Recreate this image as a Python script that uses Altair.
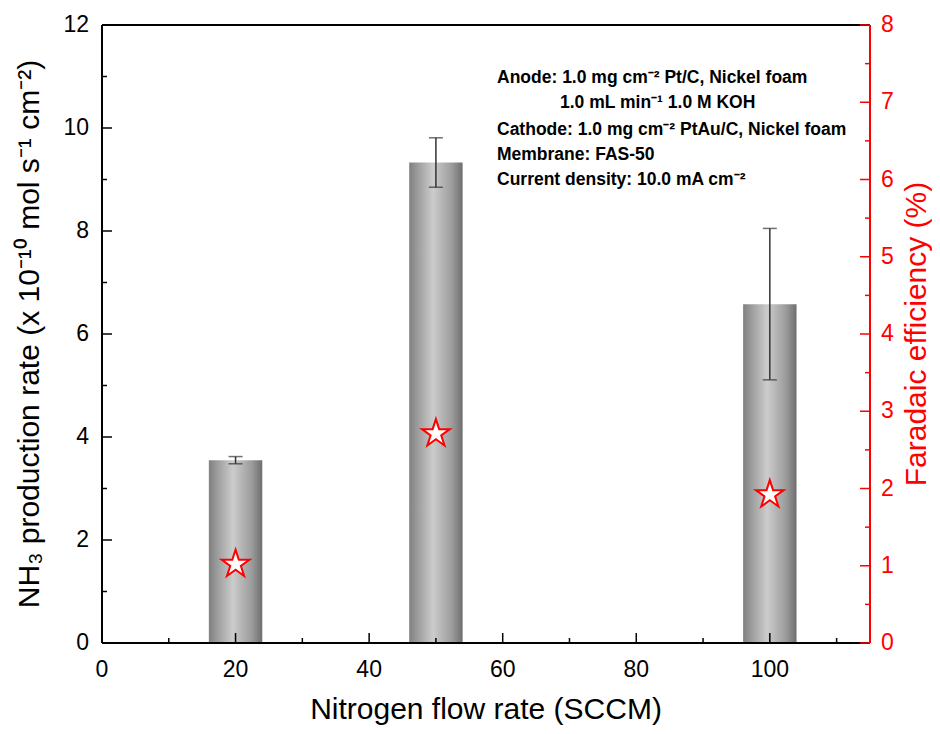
import altair as alt
import pandas as pd

# ---- data ----
flow = [20, 50, 100]
rate = [3.55, 9.33, 6.58]
rate_err = [0.07, 0.48, 1.47]
fe = [1.02, 2.71, 1.92]

x_major = [0, 20, 40, 60, 80, 100]
x_minor = [10, 30, 50, 70, 90, 110]
y_major = [0, 2, 4, 6, 8, 10, 12]
y_minor = [1, 3, 5, 7, 9, 11]
fe_major = [0, 1, 2, 3, 4, 5, 6, 7, 8]
fe_minor = [0.5, 1.5, 2.5, 3.5, 4.5, 5.5, 6.5, 7.5]

x_title = "Nitrogen flow rate (SCCM)"
y_title = "NH\u2083 production rate (x 10\u207b\u00b9\u2070 mol s\u207b\u00b9 cm\u207b\u00b2)"
fe_title = "Faradaic efficiency (%)"

notes = [
    "Anode: 1.0 mg cm\u207b\u00b2 Pt/C, Nickel foam",
    "1.0 mL min\u207b\u00b9 1.0 M KOH",
    "Cathode: 1.0 mg cm\u207b\u00b2 PtAu/C, Nickel foam",
    "Membrane: FAS-50",
    "Current density: 10.0 mA cm\u207b\u00b2",
]

W, H = 768, 618
FONT = "Liberation Sans"
LABEL_SIZE = 23
TITLE_SIZE = 30
STAR = ("M0,-1L0.2245,-0.309L0.951,-0.309L0.3633,0.118L0.588,0.809L0,0.382"
        "L-0.588,0.809L-0.3633,0.118L-0.951,-0.309L-0.2245,-0.309Z")

df = pd.DataFrame({
    "flow": flow,
    "rate": rate,
    "zero": [0, 0, 0],
    "lo": [r - e for r, e in zip(rate, rate_err)],
    "hi": [r + e for r, e in zip(rate, rate_err)],
    "x0": [f - 4 for f in flow],
    "x1": [f + 4 for f in flow],
    "fe": fe,
})

xscale = alt.Scale(domain=[0, 115], nice=False, zero=False)
yscale = alt.Scale(domain=[0, 12], nice=False)
fescale = alt.Scale(domain=[0, 8], nice=False)

grad = alt.Gradient(
    gradient="linear", x1=0, x2=1, y1=0, y2=0,
    stops=[
        alt.GradientStop(offset=0, color="#808080"),
        alt.GradientStop(offset=0.18, color="#a0a0a0"),
        alt.GradientStop(offset=0.45, color="#cccccc"),
        alt.GradientStop(offset=0.8, color="#9c9c9c"),
        alt.GradientStop(offset=1, color="#6e6e6e"),
    ],
)

X = lambda f: alt.X(f, scale=xscale, axis=None)
Y = lambda f: alt.Y(f, scale=yscale, axis=None)
YF = lambda f: alt.Y(f, scale=fescale, axis=None)

bars = alt.Chart(df).mark_bar(color=grad).encode(
    x=X("x0:Q"), x2="x1:Q", y=Y("rate:Q"), y2="zero:Q",
)
err = alt.Chart(df).mark_rule(color="#333333", strokeWidth=1.5).encode(
    x=X("flow:Q"), y=Y("lo:Q"), y2="hi:Q",
)
cap_hi = alt.Chart(df).mark_tick(color="#333333", orient="horizontal", size=14, thickness=1.5).encode(
    x=X("flow:Q"), y=Y("hi:Q"),
)
cap_lo = alt.Chart(df).mark_tick(color="#333333", orient="horizontal", size=14, thickness=1.5).encode(
    x=X("flow:Q"), y=Y("lo:Q"),
)

def tbl(vals):
    return pd.DataFrame({"v": vals, "lab": [f"{v:g}" for v in vals]})

def yticks(vals, length):
    return alt.Chart(tbl(vals)).mark_rule(color="black", strokeWidth=1.5).encode(
        y=Y("v:Q"), x=alt.value(0), x2=alt.value(length))

def xticks(vals, length):
    return alt.Chart(tbl(vals)).mark_rule(color="black", strokeWidth=1.5).encode(
        x=X("v:Q"), y=alt.value(H), y2=alt.value(H - length))

def feticks(vals, length):
    return alt.Chart(tbl(vals)).mark_rule(color="red", strokeWidth=1.5).encode(
        y=YF("v:Q"), x=alt.value(W), x2=alt.value(W - length))

one = pd.DataFrame({"t": [0]})

def frame_line(color, **enc):
    return alt.Chart(one).mark_rule(color=color, strokeWidth=2).encode(**enc)

frame = [
    frame_line("black", x=alt.value(0), x2=alt.value(W), y=alt.value(0)),
    frame_line("black", x=alt.value(0), x2=alt.value(W), y=alt.value(H)),
    frame_line("black", x=alt.value(0), y=alt.value(0), y2=alt.value(H)),
]

ylabels = alt.Chart(tbl(y_major)).mark_text(
    align="right", baseline="middle", fontSize=LABEL_SIZE, font=FONT, color="black"
).encode(y=Y("v:Q"), x=alt.value(-13), text="lab:N")

xlabels = alt.Chart(tbl(x_major)).mark_text(
    align="center", baseline="middle", fontSize=LABEL_SIZE, font=FONT, color="black"
).encode(x=X("v:Q"), y=alt.value(H + 27), text="lab:N")

def title_text(txt, color, px, py, angle, size, baseline="middle"):
    return alt.Chart(pd.DataFrame({"t": [txt]})).mark_text(
        align="center", baseline=baseline, fontSize=size, font=FONT,
        color=color, angle=angle,
    ).encode(x=alt.value(px), y=alt.value(py), text="t:N")

note_pos = [(395, 53), (458, 78), (395, 105), (395, 130), (395, 155)]
texts = []
for line, (px, py) in zip(notes, note_pos):
    texts.append(
        alt.Chart(pd.DataFrame({"t": [line]})).mark_text(
            align="left", baseline="middle", fontSize=17.5, fontWeight="bold",
            font=FONT, color="black",
        ).encode(x=alt.value(px), y=alt.value(py), text="t:N")
    )

left = alt.layer(bars, err, cap_hi, cap_lo,
                 yticks(y_major, 10), yticks(y_minor, 5),
                 xticks(x_major, 10), xticks(x_minor, 5),
                 *frame, ylabels, xlabels,
                 title_text(x_title, "black", W / 2, H + 82, 0, TITLE_SIZE, "bottom"),
                 title_text(y_title, "black", -72, H / 2, 270, TITLE_SIZE),
                 *texts)

stars = alt.Chart(df).mark_point(shape=STAR, size=850, filled=True, fill="white",
                                 stroke="red", strokeWidth=2, opacity=1).encode(
    x=X("flow:Q"), y=YF("fe:Q"),
)

felabels = alt.Chart(tbl(fe_major)).mark_text(
    align="left", baseline="middle", fontSize=LABEL_SIZE, font=FONT, color="red"
).encode(y=YF("v:Q"), x=alt.value(W + 11), text="lab:N")

right = alt.layer(stars, feticks(fe_major, 10), feticks(fe_minor, 5),
                  frame_line("red", x=alt.value(W), y=alt.value(0), y2=alt.value(H)),
                  felabels,
                  title_text(fe_title, "red", W + 47, H / 2, 270, TITLE_SIZE))

chart = alt.layer(left, right).resolve_scale(y="independent").properties(
    width=W, height=H,
    autosize=alt.AutoSizeParams(type="none"),
    padding={"left": 94, "top": 17, "right": 62, "bottom": 83},
).configure(background="white").configure_view(strokeWidth=0)

chart.save("out.html", embed_options={"renderer": "svg", "actions": False})
